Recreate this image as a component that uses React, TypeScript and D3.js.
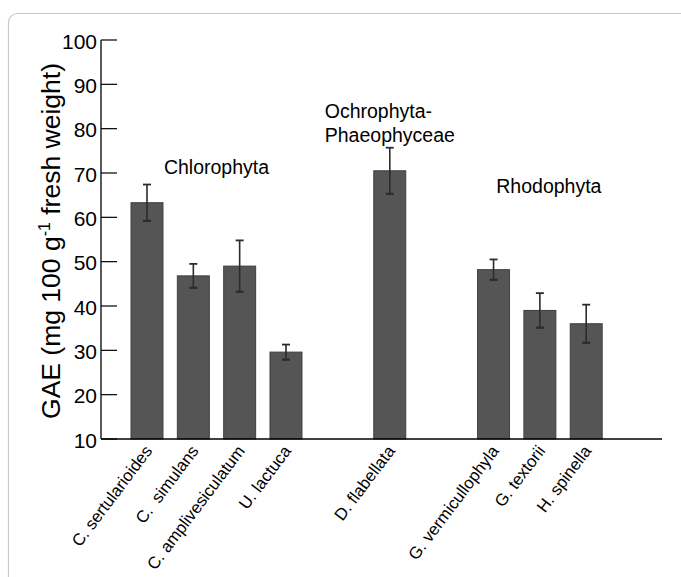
import React from "react";
import * as d3 from "d3";

const species = [
  "C. sertularioides",
  "C.  simulans",
  "C. amplivesiculatum",
  "U. lactuca",
  "D. flabellata",
  "G. vermicullophyla",
  "G. textorii",
  "H. spinella",
];
const groupOf = [0, 0, 0, 0, 1, 2, 2, 2];
const means = [63.3, 46.8, 49.0, 29.6, 70.5, 48.2, 39.0, 36.0];
const errors = [4.1, 2.7, 5.8, 1.7, 5.2, 2.3, 3.9, 4.3];
const yTicks = [10, 20, 30, 40, 50, 60, 70, 80, 90, 100];
const groupNames = [["Chlorophyta"], ["Ochrophyta-", "Phaeophyceae"], ["Rhodophyta"]];

const W = 681;
const H = 577;
const FONT = "'Liberation Sans', Arial, Helvetica, sans-serif";
const GAP = 1.24;

export default function App() {
  const slot = species.map((_, i) => i + groupOf[i] * GAP);
  const x = d3.scaleLinear().domain([0, 1]).range([147, 147 + 46.33]);
  const y = d3.scaleLinear().domain([10, 100]).range([439, 40]);
  const barW = x(0.69) - x(0);
  const axisX = 101;
  const axisEnd = 662;

  const groupCenter = (g: number) => {
    const idx = species.map((_, i) => i).filter((i) => groupOf[i] === g);
    return (x(slot[idx[0]]) + x(slot[idx[idx.length - 1]])) / 2;
  };

  const labelPos = [
    { dx: 0, y: 174, anchor: "middle" },
    { dx: -65, y: 118.3, anchor: "start" },
    { dx: 9, y: 192.7, anchor: "middle" },
  ];

  return (
    <svg
      width={W}
      height={H}
      style={{ position: "absolute", left: 0, top: 0, background: "#fff" }}
      fontFamily={FONT}
    >
      <rect x={8.5} y={13.5} width={700} height={620} rx={9} fill="#fff" stroke="#c8c8c8" strokeWidth={1.2} />

      {/* bars */}
      {means.map((m, i) => (
        <rect
          key={"b" + i}
          x={x(slot[i]) - barW / 2}
          y={y(m)}
          width={barW}
          height={y(10) - y(m)}
          fill="#555555"
          stroke="#3f3f3f"
          strokeWidth={1}
        />
      ))}

      {/* error bars */}
      {means.map((m, i) => {
        const cx = x(slot[i]);
        return (
          <g key={"e" + i} stroke="#2b2b2b">
            <line x1={cx} x2={cx} y1={y(m + errors[i])} y2={y(m - errors[i])} strokeWidth={1.6} />
            <line x1={cx - 4} x2={cx + 4} y1={y(m + errors[i])} y2={y(m + errors[i])} strokeWidth={1.8} />
            <line x1={cx - 4} x2={cx + 4} y1={y(m - errors[i])} y2={y(m - errors[i])} strokeWidth={2.2} />
          </g>
        );
      })}

      {/* y axis */}
      <line x1={axisX} x2={axisX} y1={y(100)} y2={y(10)} stroke="#000" strokeWidth={1.3} />
      {yTicks.map((t) => (
        <g key={"t" + t}>
          <line x1={axisX} x2={axisX + 16} y1={y(t)} y2={y(t)} stroke="#000" strokeWidth={1.2} />
          <text x={97} y={y(t)} dy="0.42em" textAnchor="end" fontSize={21} fill="#000">
            {t}
          </text>
        </g>
      ))}
      {/* x axis */}
      <line x1={axisX} x2={axisEnd} y1={y(10)} y2={y(10)} stroke="#000" strokeWidth={1.3} />

      {/* y title */}
      <text
        transform={`translate(59.5, 241) rotate(-90)`}
        textAnchor="middle"
        fontSize={26.5}
        fill="#000"
      >
        GAE (mg 100 g
        <tspan fontSize={16} dy={-10}>-1</tspan>
        <tspan dy={10}> fresh weight)</tspan>
      </text>

      {/* x labels */}
      {species.map((s, i) => {
        const cx = x(slot[i]) + 6;
        return (
          <text
            key={"x" + i}
            transform={`translate(${cx}, 451) rotate(-53)`}
            textAnchor="end"
            fontSize={16.8}
            fill="#000"
            style={{ whiteSpace: "pre" }}
          >
            {s}
          </text>
        );
      })}

      {/* group labels */}
      {groupNames.map((lines, g) => {
        const p = labelPos[g];
        return (
          <text key={"g" + g} x={groupCenter(g) + p.dx} y={p.y} textAnchor={p.anchor} fontSize={19.5} fill="#000">
            {lines.map((l, j) => (
              <tspan key={j} x={groupCenter(g) + p.dx} dy={j === 0 ? 0 : 23.4}>
                {l}
              </tspan>
            ))}
          </text>
        );
      })}
    </svg>
  );
}
